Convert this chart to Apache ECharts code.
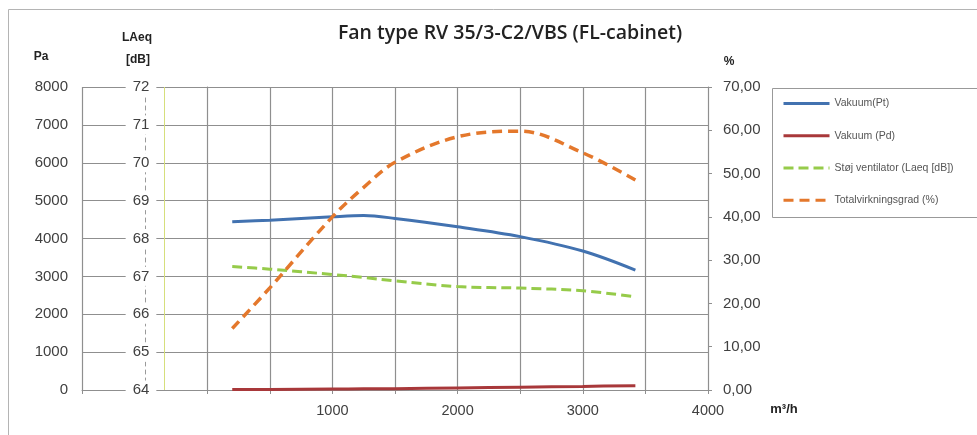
<!DOCTYPE html>
<html>
<head>
<meta charset="utf-8">
<script src="https://cdn.jsdelivr.net/npm/echarts@6/dist/echarts.min.js"></script>
<style>html,body{margin:0;padding:0;background:#fff}#c{width:977px;height:435px}</style>
</head>
<body>
<div id="c"></div>
<script>
// Airflow (m³/h) at which the curves were sampled
const airflow = [200, 500, 1000, 1250, 1500, 2000, 2500, 3000, 3420];
// Vakuum (Pt) in Pa
const vakuumPt = [4440, 4485, 4573, 4605, 4530, 4310, 4050, 3670, 3166];
// Vakuum (Pd) in Pa
const vakuumPd = [10, 15, 25, 30, 35, 55, 75, 95, 115];
// Støj ventilator LAeq [dB]
const stoej = [67.26, 67.19, 67.05, 66.97, 66.88, 66.73, 66.69, 66.62, 66.46];
// Totalvirkningsgrad (%)
const virkningsgrad = [14.2, 23.6, 40, 46.8, 52.6, 58.5, 59.8, 54.8, 48.5];
// x-axis labelled ticks
const xTickLabels = [1000, 2000, 3000, 4000];
const seriesNames = ['Vakuum(Pt)', 'Vakuum (Pd)', 'Støj ventilator (Laeq [dB])', 'Totalvirkningsgrad (%)'];

const pair = arr => airflow.map((x, i) => [x, arr[i]]);
const gridCol = '#8f8f8f';
const txt = '#404040';
const font = 'Liberation Sans';

const chart = echarts.init(document.getElementById('c'), null, {renderer: 'canvas'});
chart.setOption({
  animation: false,
  backgroundColor: '#fff',
  textStyle: {fontFamily: font},
  grid: {left: 82, right: 269, top: 87, bottom: 45, containLabel: false},
  legend: {
    orient: 'vertical', left: 777, top: 93, itemWidth: 46, itemHeight: 14, itemGap: 21,
    itemStyle: {opacity: 0},
    lineStyle: {width: 3},
    textStyle: {fontSize: 10.5, color: '#555', fontFamily: font},
    data: seriesNames
  },
  xAxis: {
    type: 'value', min: -1000, max: 4000, interval: 500,
    axisLine: {show: true, lineStyle: {color: gridCol}},
    axisTick: {show: true, length: 4, lineStyle: {color: gridCol}},
    axisLabel: {
      margin: 13, fontSize: 14.5, color: txt, fontFamily: font,
      formatter: v => xTickLabels.indexOf(Math.round(v)) >= 0 ? String(Math.round(v)) : ''
    },
    splitLine: {show: true, lineStyle: {color: [gridCol, 'rgba(0,0,0,0)', gridCol, gridCol, gridCol, gridCol, gridCol, gridCol, gridCol, gridCol, gridCol], width: 1.2}}
  },
  yAxis: [
    {
      type: 'value', min: 0, max: 8000, interval: 1000, position: 'left',
      axisLine: {show: true, lineStyle: {color: gridCol}},
      axisTick: {show: true, length: 4, lineStyle: {color: gridCol}},
      axisLabel: {margin: 14, fontSize: 15, color: txt, fontFamily: font, formatter: v => String(v)},
      splitLine: {show: true, lineStyle: {color: gridCol, width: 1.2}}
    },
    {
      type: 'value', min: 64, max: 72, interval: 1, position: 'left', offset: -63,
      axisLine: {show: true, lineStyle: {color: '#9a9a9a', type: [4, 4]}},
      axisTick: {show: false},
      axisLabel: {margin: 4, align: 'center', fontSize: 15, color: txt, fontFamily: font,
        backgroundColor: '#fff', padding: [2, 7], formatter: v => String(v)},
      splitLine: {show: false}
    },
    {
      type: 'value', min: 0, max: 70, interval: 10, position: 'right',
      axisLine: {show: true, lineStyle: {color: gridCol}},
      axisTick: {show: true, length: 4, lineStyle: {color: gridCol}},
      axisLabel: {margin: 15, fontSize: 15, color: txt, fontFamily: font,
        formatter: v => v.toFixed(2).replace('.', ',')},
      splitLine: {show: false}
    }
  ],
  series: [
    {
      name: seriesNames[0], type: 'line', yAxisIndex: 0, smooth: 0.35, symbol: 'none',
      data: pair(vakuumPt), lineStyle: {color: '#4272b0', width: 3}, itemStyle: {color: '#4272b0'}
    },
    {
      name: seriesNames[1], type: 'line', yAxisIndex: 0, smooth: 0.35, symbol: 'none',
      data: pair(vakuumPd), lineStyle: {color: '#a8383a', width: 3}, itemStyle: {color: '#a8383a'}
    },
    {
      name: seriesNames[2], type: 'line', yAxisIndex: 1, smooth: 0.35, symbol: 'none',
      data: pair(stoej), lineStyle: {color: '#96cb4a', width: 3, type: [10, 5]}, itemStyle: {color: '#96cb4a'},
      markLine: {
        silent: true, symbol: 'none', label: {show: false},
        lineStyle: {color: '#d6df7c', type: 'solid', width: 1},
        data: [{xAxis: -344}]
      }
    },
    {
      name: seriesNames[3], type: 'line', yAxisIndex: 2, smooth: 0.35, symbol: 'none',
      data: pair(virkningsgrad), lineStyle: {color: '#e4782c', width: 3.5, type: [10, 6]}, itemStyle: {color: '#e4782c'}
    }
  ],
  graphic: [
    {type: 'rect', silent: true, z: -10, shape: {x: 8.5, y: 9.5, width: 1100, height: 600},
      style: {fill: 'none', stroke: '#b4b4b4', lineWidth: 1}},
    {type: 'rect', silent: true, z: -5, shape: {x: 772.5, y: 88.5, width: 260, height: 129},
      style: {fill: '#fff', stroke: '#999', lineWidth: 1}},
    {type: 'text', silent: true, style: {text: 'Fan type RV 35/3-C2/VBS (FL-cabinet)', x: 510, y: 33,
      fontSize: 19.5, fontWeight: 600, fontFamily: 'Open Sans', fill: '#222', align: 'center', verticalAlign: 'middle'}},
    {type: 'text', silent: true, style: {text: 'Pa', x: 41, y: 57, fontSize: 12, fontWeight: 'bold', fontFamily: font, fill: '#222', align: 'center', verticalAlign: 'middle'}},
    {type: 'text', silent: true, style: {text: 'LAeq', x: 137, y: 38, fontSize: 12, fontWeight: 'bold', fontFamily: font, fill: '#222', align: 'center', verticalAlign: 'middle'}},
    {type: 'text', silent: true, style: {text: '[dB]', x: 138, y: 60, fontSize: 12, fontWeight: 'bold', fontFamily: font, fill: '#222', align: 'center', verticalAlign: 'middle'}},
    {type: 'text', silent: true, style: {text: '%', x: 729, y: 62, fontSize: 12, fontWeight: 'bold', fontFamily: font, fill: '#222', align: 'center', verticalAlign: 'middle'}},
    {type: 'text', silent: true, style: {text: 'm³/h', x: 784, y: 409, fontSize: 13, fontWeight: 'bold', fontFamily: font, fill: '#222', align: 'center', verticalAlign: 'middle'}}
  ]
});
</script>
</body>
</html>
